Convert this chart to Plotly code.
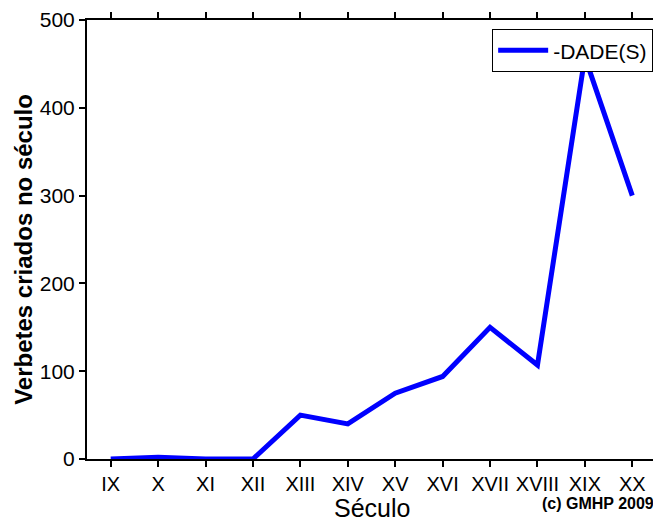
import plotly.graph_objects as go

seculos = ["IX", "X", "XI", "XII", "XIII", "XIV", "XV", "XVI", "XVII", "XVIII", "XIX", "XX"]
verbetes = [0, 2, 0, 0, 50, 40, 75, 94, 150, 107, 458, 300]
serie_nome = "-DADE(S)"

font_family = "Liberation Sans, Arial, sans-serif"

fig = go.Figure()
fig.add_trace(go.Scatter(
    x=list(range(len(seculos))), y=verbetes, mode="lines", name=serie_nome,
    line=dict(color="#0000FF", width=5), showlegend=True,
))

axis_common = dict(
    showline=True, linecolor="black", linewidth=2, mirror="ticks",
    ticks="outside", ticklen=6, tickwidth=2, tickcolor="black",
    showgrid=False, zeroline=False, automargin=False,
)

# page body has an 8px default margin: size the figure so it fits the 661x521 window
fig.update_layout(
    width=653, height=513,
    margin=dict(l=79, r=5, t=12, b=62),
    paper_bgcolor="white", plot_bgcolor="white",
    font=dict(family=font_family, color="black"),
    xaxis=dict(
        range=[-0.5, len(seculos) - 0.5],
        tickmode="array", tickvals=list(range(len(seculos))), ticktext=seculos,
        tickfont=dict(family=font_family, size=20, color="black"),
        **axis_common,
    ),
    yaxis=dict(
        range=[0, 500], tickvals=[0, 100, 200, 300, 400, 500],
        tickfont=dict(family=font_family, size=21, color="black"),
        **axis_common,
    ),
    legend=dict(
        x=0.995, y=0.979, xanchor="right", yanchor="top",
        bordercolor="black", borderwidth=1, bgcolor="white",
        font=dict(size=21, family=font_family),
        itemwidth=50,
    ),
    annotations=[
        dict(
            text="Século", x=0.5, y=-0.112, xref="paper", yref="paper",
            xanchor="center", yanchor="middle", showarrow=False,
            font=dict(size=25, family=font_family, color="black"),
        ),
        dict(
            text="<b>Verbetes criados no século</b>", x=-0.112, y=0.477,
            xref="paper", yref="paper", textangle=-90,
            xanchor="center", yanchor="middle", showarrow=False,
            font=dict(size=24, family=font_family, color="black"),
        ),
        dict(
            text="<b>(c) GMHP 2009</b>", x=1.0, y=-0.102, xref="paper", yref="paper",
            xanchor="right", yanchor="middle", showarrow=False,
            font=dict(size=16, family=font_family, color="black"),
        ),
    ],
)

fig.write_html("out.html")
